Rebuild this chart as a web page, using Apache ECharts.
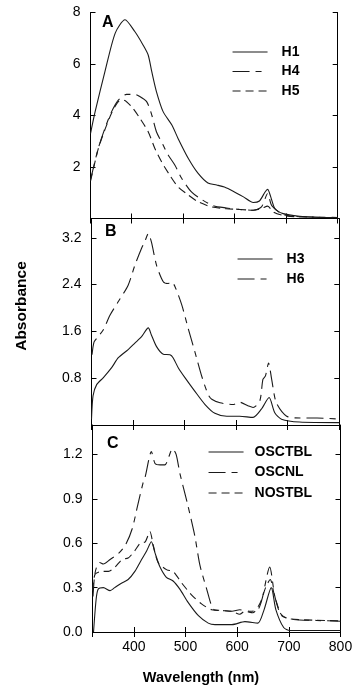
<!DOCTYPE html>
<html>
<head>
<meta charset="utf-8">
<script src="https://cdn.jsdelivr.net/npm/echarts@6/dist/echarts.min.js"></script>
<style>
  html, body { margin: 0; padding: 0; background: #fff; }
  #chart { width: 356px; height: 687px; }
</style>
</head>
<body>
<div id="chart"></div>
<script>
// wavelength (nm), absorbance pairs
var h1 = [[320,3.3],[329,4.15],[348,5.7],[368,7.2],[387,7.72],[406,7.26],[422,6.74],[432,6.35],[439,5.7],[448,4.93],[461,4.15],[478,3.63],[490,3.11],[510,2.33],[529,1.75],[548,1.38],[565,1.3],[580,1.22],[597,1.06],[617,0.84],[636,0.62],[648,0.68],[659,1.03],[664,1.13],[670,0.84],[678,0.39],[694,0.19],[726,0.09],[760,0.05],[800,0.03]];
var h4 = [[320,1.5],[335,2.72],[348,3.5],[361,4.15],[374,4.6],[390,4.82],[406,4.82],[413,4.77],[429,4.54],[439,4.02],[448,3.37],[461,2.85],[471,2.46],[484,2.07],[497,1.56],[516,1.03],[534,0.76],[558,0.5],[584,0.41],[610,0.35],[636,0.32],[652,0.45],[664,0.97],[672,0.5],[694,0.15],[720,0.08],[760,0.05],[800,0.04]];
var h5 = [[320,1.45],[335,2.7],[348,3.45],[361,4.1],[374,4.54],[384,4.6],[400,4.34],[416,3.89],[432,3.37],[445,2.72],[458,2.2],[474,1.68],[490,1.23],[510,0.91],[529,0.65],[555,0.45],[584,0.38],[610,0.35],[636,0.32],[652,0.39],[664,0.48],[675,0.25],[694,0.12],[720,0.07],[800,0.03]];

var h3 = [[320,0.1],[323,0.5],[330,0.69],[343,0.81],[359,0.98],[372,1.15],[391,1.29],[404,1.4],[417,1.51],[430,1.66],[436,1.54],[446,1.34],[459,1.21],[472,1.2],[478,1.15],[488,0.98],[501,0.81],[520,0.58],[540,0.35],[559,0.2],[582,0.15],[607,0.15],[633,0.13],[649,0.27],[664,0.47],[675,0.21],[688,0.1],[723,0.05],[800,0.04]];
var h6 = [[321,1.2],[325,1.42],[332,1.5],[343,1.63],[356,1.88],[372,2.11],[391,2.39],[404,2.73],[417,3.02],[423,3.13],[430,3.27],[436,3.13],[446,2.73],[459,2.45],[469,2.42],[475,2.45],[482,2.36],[495,2.05],[507,1.66],[520,1.26],[534,0.82],[546,0.52],[553,0.44],[569,0.38],[594,0.35],[607,0.39],[623,0.33],[633,0.3],[646,0.41],[652,0.78],[657,0.84],[663,1.06],[669,0.78],[678,0.38],[698,0.15],[724,0.12],[757,0.12],[800,0.1]];

var osctbl = [[322,0.0],[327,0.22],[331,0.29],[341,0.3],[354,0.28],[363,0.3],[376,0.33],[389,0.355],[402,0.41],[415,0.49],[425,0.55],[434,0.61],[441,0.535],[450,0.445],[463,0.37],[476,0.345],[489,0.29],[505,0.2],[525,0.11],[544,0.06],[557,0.05],[590,0.05],[615,0.07],[640,0.06],[652,0.15],[666,0.3],[675,0.15],[690,0.03],[702,0.01],[800,0.01]];
var oscnl = [[321,0.24],[324,0.38],[328,0.44],[334,0.47],[341,0.46],[354,0.49],[370,0.53],[384,0.59],[397,0.7],[407,0.85],[418,1.01],[422,1.05],[434,1.22],[441,1.14],[451,1.13],[460,1.13],[475,1.24],[482,1.2],[489,1.075],[505,0.85],[518,0.65],[528,0.45],[541,0.29],[551,0.17],[556,0.15],[567,0.147],[590,0.14],[605,0.15],[625,0.14],[640,0.15],[648,0.22],[663,0.44],[673,0.24],[686,0.11],[709,0.085],[754,0.078],[800,0.073]];
var nostbl = [[320,0.28],[325,0.39],[338,0.41],[351,0.41],[364,0.44],[377,0.49],[389,0.5],[402,0.55],[412,0.6],[422,0.61],[431,0.68],[438,0.58],[447,0.47],[464,0.42],[476,0.41],[493,0.33],[512,0.25],[531,0.19],[551,0.15],[570,0.145],[590,0.14],[605,0.12],[615,0.14],[630,0.13],[645,0.2],[655,0.3],[664,0.355],[672,0.25],[685,0.12],[700,0.09],[750,0.08],[800,0.075]];

var yA = { min: 0, max: 8, interval: 2 };
var yB = { min: 0, max: 3.53, interval: 0.8 };
var yC = { min: 0, max: 1.4, interval: 0.3 };

var solid = 'solid', longShort = [17, 6, 6, 6], shortDash = [8, 5];
var lineColor = '#1a1a1a';
var font = 'Liberation Sans';

var chart = echarts.init(document.getElementById('chart'));

var grids = [
  { left: 90.5, right: 18.3, top: 12.5, height: 206 },
  { left: 91.5, right: 16.7, top: 218.5, height: 206.5 },
  { left: 92.5, right: 15.5, top: 425, height: 207 }
];

function xAx(i, pos, labels) {
  return {
    type: 'value', gridIndex: i, position: pos, min: 320, max: 800,
    minInterval: 100, maxInterval: 100,
    axisLine: { show: true, lineStyle: { color: '#000', width: 1 } },
    axisTick: { show: true, inside: true, length: 5, lineStyle: { color: '#000' } },
    axisLabel: { show: labels, showMinLabel: false, color: '#000', fontFamily: font, fontSize: 14, margin: 8 },
    splitLine: { show: false }
  };
}
function yAx(i, pos, s, labels, digits) {
  return {
    type: 'value', gridIndex: i, position: pos, min: s.min, max: s.max, interval: s.interval,
    axisLine: { show: true, lineStyle: { color: '#000', width: 1 } },
    axisTick: { show: true, inside: true, length: 5, lineStyle: { color: '#000' } },
    axisLabel: {
      show: labels, showMinLabel: i === 2, showMaxLabel: i === 0,
      color: '#000', fontFamily: font, fontSize: 14, margin: 10,
      formatter: function (v) { return v.toFixed(digits); }
    },
    splitLine: { show: false }
  };
}

function line(name, data, type, xi, yi) {
  return {
    name: name, type: 'line', data: data, xAxisIndex: xi, yAxisIndex: yi,
    symbol: 'none', smooth: 0.25, animation: false,
    lineStyle: { color: lineColor, width: 1.1, type: type },
    itemStyle: { color: lineColor }
  };
}

function legend(names, left, top, pad, gap) {
  return {
    data: names, orient: 'vertical', left: left, top: top, padding: 0,
    itemWidth: 35, itemHeight: 14, itemGap: gap, selectedMode: false,
    itemStyle: { opacity: 0 },
    lineStyle: { opacity: 1, width: 1.1 },
    textStyle: { fontFamily: font, fontSize: 14, fontWeight: 'bold', color: '#000', padding: [0, 0, 0, pad] }
  };
}

var option = {
  animation: false,
  grid: grids,
  xAxis: [xAx(0, 'bottom', false), xAx(0, 'top', false), xAx(1, 'bottom', false), xAx(1, 'top', false), xAx(2, 'bottom', true), xAx(2, 'top', false)],
  yAxis: [yAx(0, 'left', yA, true, 0), yAx(0, 'right', yA, false, 0), yAx(1, 'left', yB, true, 1), yAx(1, 'right', yB, false, 1), yAx(2, 'left', yC, true, 1), yAx(2, 'right', yC, false, 1)],
  legend: [
    legend(['H1', 'H4', 'H5'], 232, 45, 9, 5.5),
    legend(['H3', 'H6'], 237, 252, 9, 6),
    legend(['OSCTBL', 'OSCNL', 'NOSTBL'], 208, 445, 6, 6.5)
  ],
  series: [
    line('H1', h1, solid, 0, 0),
    line('H4', h4, longShort, 0, 0),
    line('H5', h5, shortDash, 0, 0),
    line('H3', h3, solid, 2, 2),
    line('H6', h6, longShort, 2, 2),
    line('OSCTBL', osctbl, solid, 4, 4),
    line('OSCNL', oscnl, longShort, 4, 4),
    line('NOSTBL', nostbl, shortDash, 4, 4)
  ],
  graphic: [
    { type: 'text', left: 102, top: 15, style: { text: 'A', font: 'bold 16px "Liberation Sans"', fill: '#000' } },
    { type: 'text', left: 105, top: 224, style: { text: 'B', font: 'bold 16px "Liberation Sans"', fill: '#000' } },
    { type: 'text', left: 107, top: 436, style: { text: 'C', font: 'bold 16px "Liberation Sans"', fill: '#000' } },
    { type: 'text', x: 22, y: 306, rotation: Math.PI / 2,
      style: { text: 'Absorbance', font: 'bold 15.5px "Liberation Sans"', fill: '#000', align: 'center', verticalAlign: 'middle' } },
    { type: 'text', x: 201, y: 678,
      style: { text: 'Wavelength (nm)', font: 'bold 14.5px "Liberation Sans"', fill: '#000', align: 'center', verticalAlign: 'middle' } }
  ]
};

chart.setOption(option);
</script>
</body>
</html>
